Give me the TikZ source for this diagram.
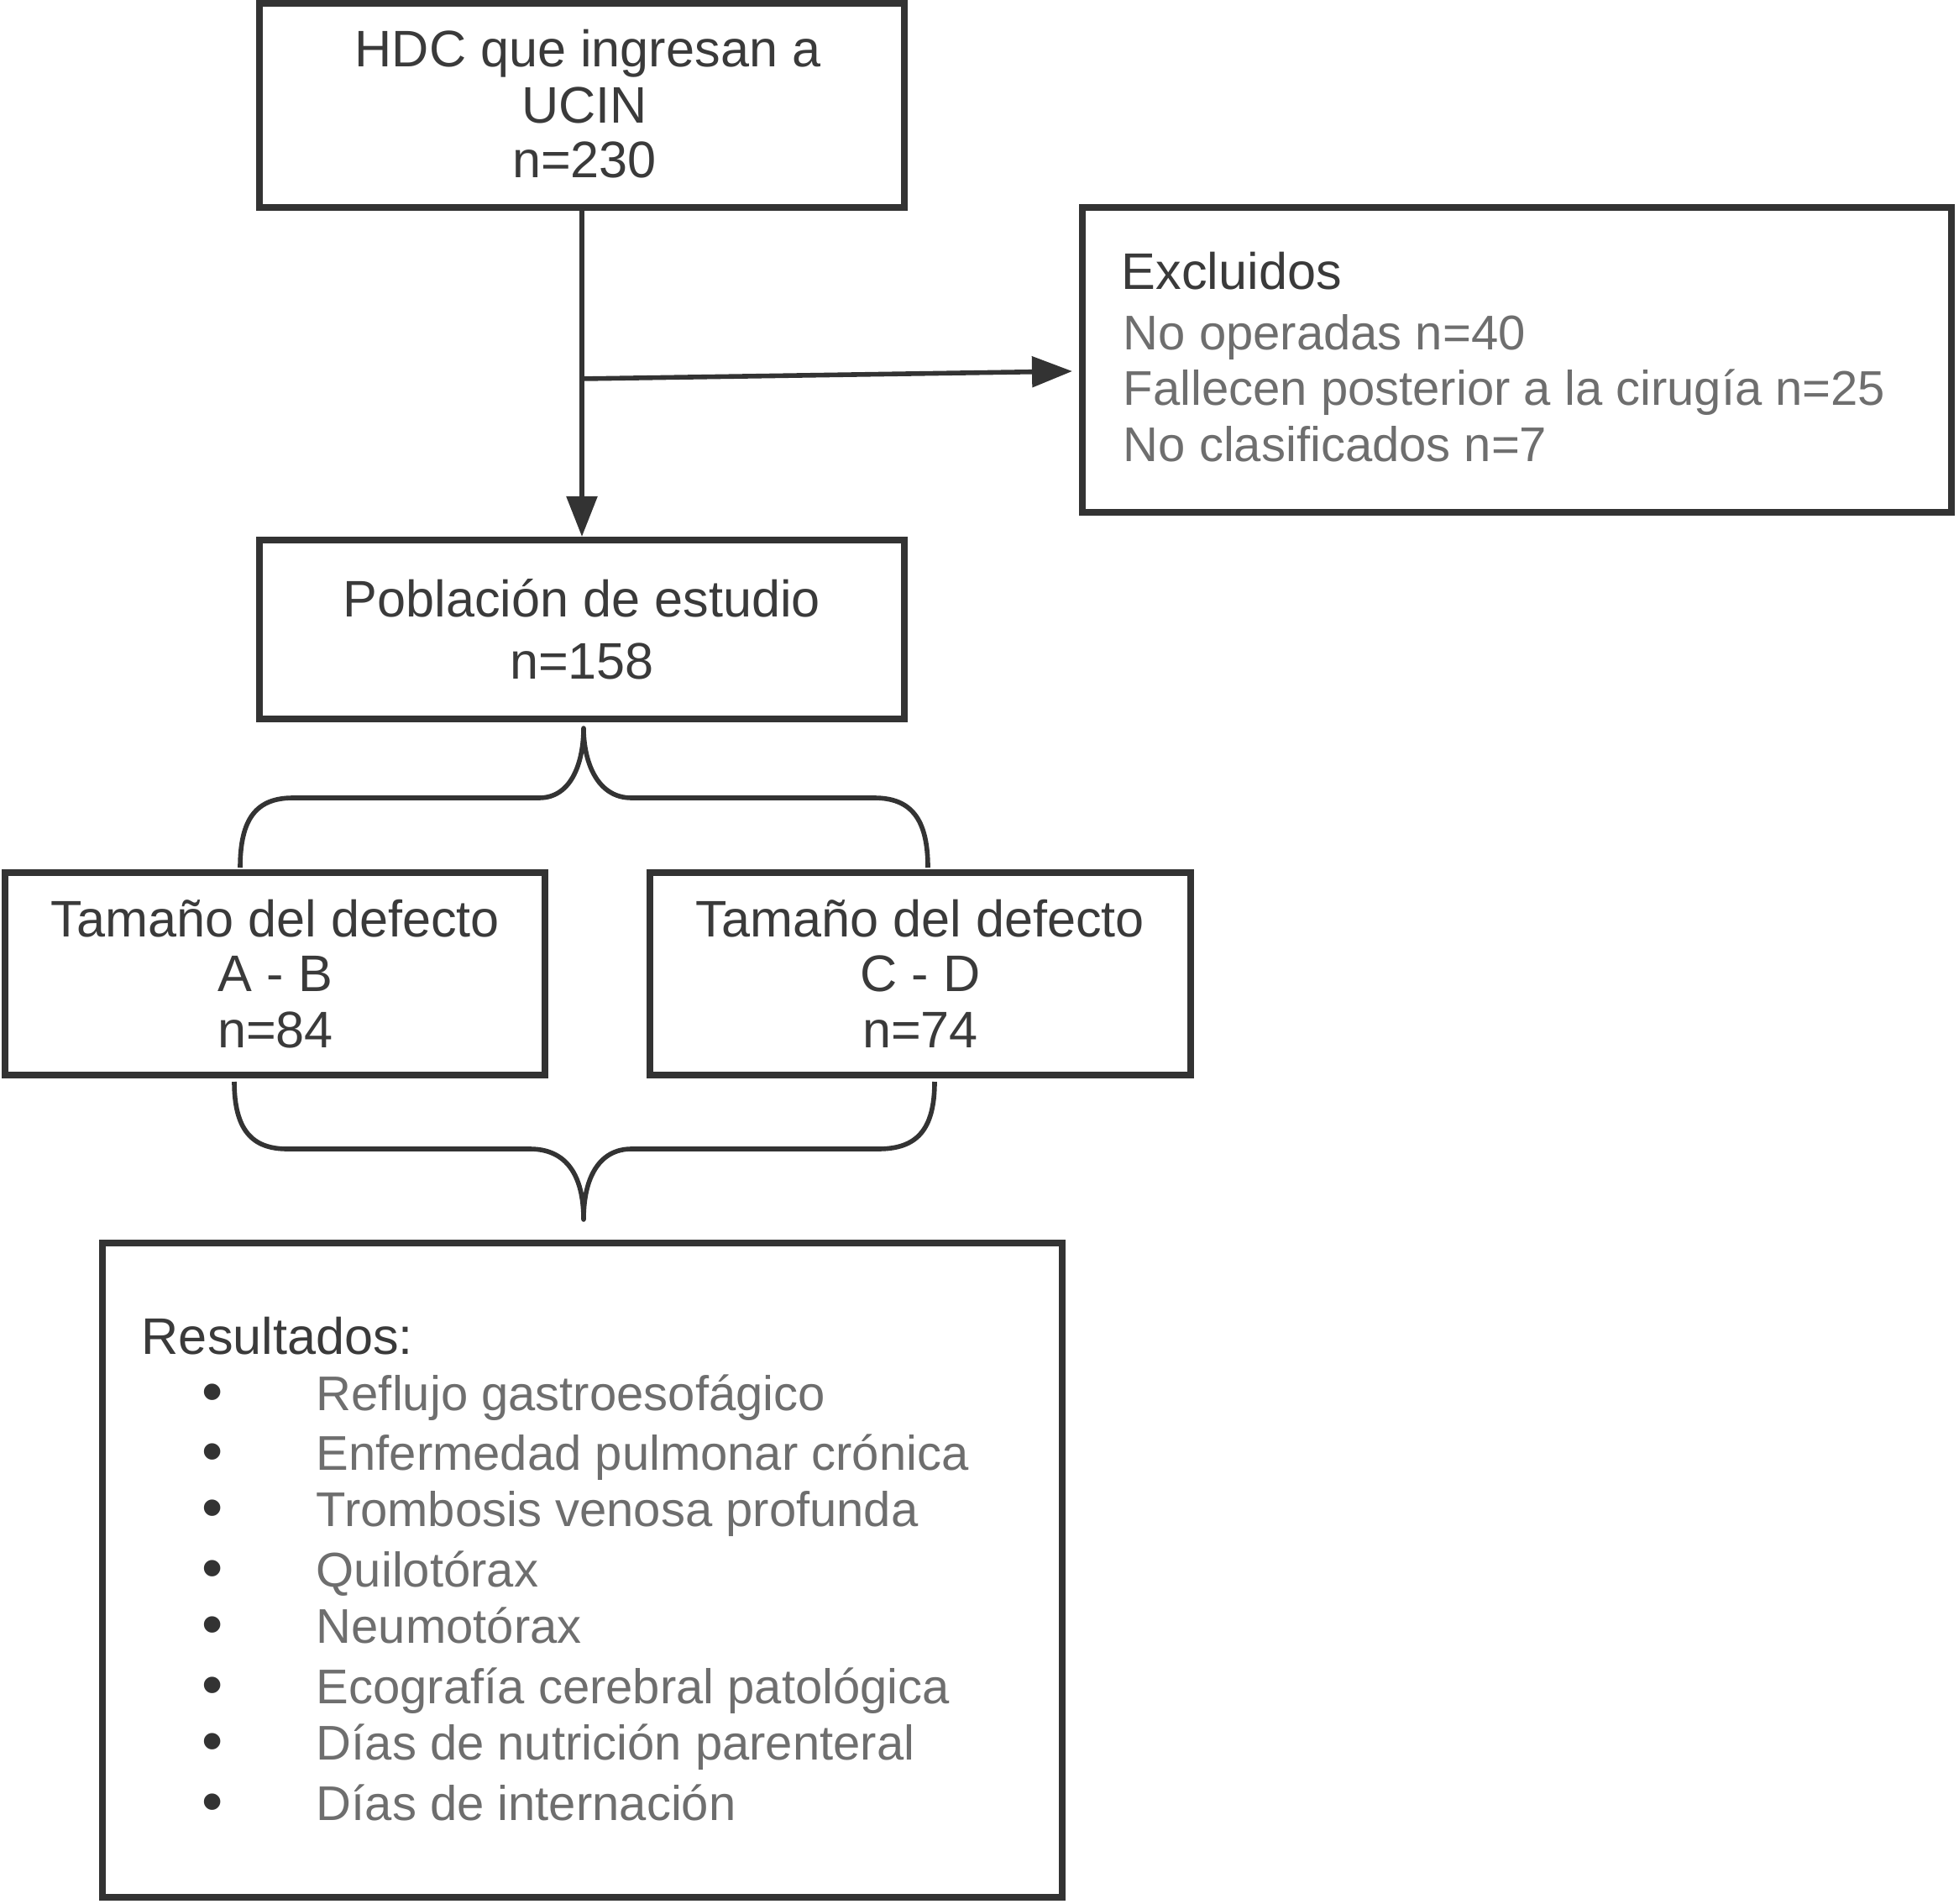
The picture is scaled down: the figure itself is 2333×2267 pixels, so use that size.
\documentclass[tikz,border=0pt]{standalone}
\usepackage{fontspec}
\setmainfont{Liberation Sans}
\usetikzlibrary{arrows.meta,calc}
\definecolor{linec}{HTML}{333333}
\definecolor{titlec}{HTML}{3A3A3A}
\definecolor{itemc}{HTML}{6E6E6E}
\begin{document}
\begin{tikzpicture}[x=0.25pt,y=-0.25pt,
  box/.style={draw=linec,line width=2pt,inner sep=0pt},
  conn/.style={draw=linec,line width=1.4pt,line join=round},
  arr/.style={conn,-{Triangle[length=12pt,width=9pt]}},
  ttl/.style={inner sep=0pt,anchor=base,font=\fontsize{15.3}{17}\selectfont,text=titlec},
  ttlw/.style={inner sep=0pt,anchor=base west,font=\fontsize{15.3}{17}\selectfont,text=titlec},
  itm/.style={inner sep=0pt,anchor=base west,font=\fontsize{14.5}{16.5}\selectfont,text=itemc},
  bul/.style={inner sep=0pt,anchor=base,font=\fontsize{18}{18}\selectfont,text=linec},
]
\useasboundingbox (0,0) rectangle (2333,2267);

% boxes
\node[box,minimum width=192pt,minimum height=60.75pt] (b1) at (693,125.5) {};
\node[box,minimum width=258.75pt,minimum height=90.75pt] (ex) at (1806.5,428.5) {};
\node[box,minimum width=192pt,minimum height=53.25pt] (pob) at (693,749.5) {};
\node[box,minimum width=160.75pt,minimum height=60.25pt] (ab) at (327.5,1159.5) {};
\node[box,minimum width=161pt,minimum height=60.25pt] (cd) at (1096,1159.5) {};
\node[box,minimum width=285.75pt,minimum height=194.75pt] (res) at (693.5,1869.5) {};

% texts of first box
\node[ttl] (b1a) at (700,80) {HDC que ingresan a};
\node[ttl] (b1b) at (696,147) {UCIN};
\node[ttl] (b1c) at (696,212) {n=230};

% excluded
\node[ttlw] (ex0) at (1335,345) {Excluidos};
\node[itm] (ex1) at (1337,417) {No operadas n=40};
\node[itm] (ex2) at (1337,483) {Fallecen posterior a la cirugía n=25};
\node[itm] (ex3) at (1337,550) {No clasificados n=7};

% population
\node[ttl] (pob1) at (693,735) {Población de estudio};
\node[ttl] (pob2) at (693,808) {n=158};

% groups
\node[ttl] (ab1) at (328,1115) {Tamaño del defecto};
\node[ttl] (ab2) at (328,1180) {A - B};
\node[ttl] (ab3) at (328,1247) {n=84};
\node[ttl] (cd1) at (1096,1115) {Tamaño del defecto};
\node[ttl] (cd2) at (1096,1180) {C - D};
\node[ttl] (cd3) at (1096,1247) {n=74};

% results
\node[ttlw] (res0) at (168,1612) {Resultados:};
\foreach \y/\t [count=\i] in {1679/Reflujo gastroesofágico,
  1750/Enfermedad pulmonar crónica,
  1817/Trombosis venosa profunda,
  1889/Quilotórax,
  1956/Neumotórax,
  2028/Ecografía cerebral patológica,
  2095/Días de nutrición parenteral,
  2167/Días de internación}{
  \node[bul] (bu\i) at (253,\y+2) {•};
  \node[itm] (it\i) at (376,\y) {\t};
}

% connectors
\draw[arr] (b1.south) -- (pob.north);
\coordinate (j) at (693,451);
\coordinate (exin) at (1277,442);
\draw[arr] (j) -- (exin);

% top brace
\coordinate (tl) at (286,1033);
\coordinate (tr) at (1105,1033);
\coordinate (tt) at (695,867);
\draw[conn] (tl) .. controls (286,975) and (305,950) .. (349,950) -- (642,950)
  .. controls (682,950) and (695,905) .. (tt)
  .. controls (695,905) and (710,950) .. (752,950) -- (1041,950)
  .. controls (1085,950) and (1105,975) .. (tr);

% bottom brace
\coordinate (bl) at (279,1288);
\coordinate (br) at (1113,1288);
\coordinate (bt) at (695,1452);
\draw[conn] (bl) .. controls (279,1345) and (300,1368) .. (342,1368) -- (631,1368)
  .. controls (675,1368) and (695,1400) .. (bt)
  .. controls (695,1400) and (715,1368) .. (752,1368) -- (1046,1368)
  .. controls (1092,1368) and (1113,1345) .. (br);
\end{tikzpicture}
\end{document}
